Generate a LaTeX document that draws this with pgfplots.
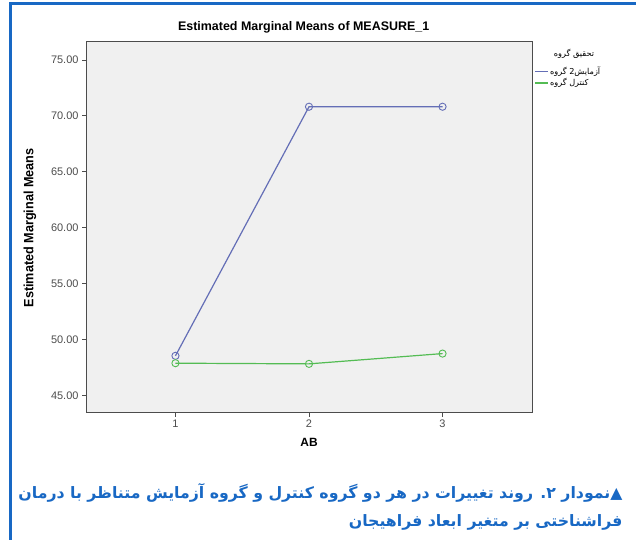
\documentclass[border=0pt]{standalone}
\usepackage{fontspec}
\setmainfont{Liberation Sans}
\newfontfamily\arabicfont[Script=Arabic]{DejaVu Sans}
\TeXXeTstate=1
\usepackage{pgfplots}
\pgfplotsset{compat=1.18}
\definecolor{capblue}{RGB}{24,104,196}
\definecolor{serblue}{RGB}{100,110,182}
\definecolor{sergreen}{RGB}{84,188,84}
\definecolor{plotbg}{RGB}{240,240,240}
\begin{document}
\begin{tikzpicture}
\path[use as bounding box] (0,0) rectangle (636bp,540bp);
\draw[capblue, line width=3bp] (10bp,-2bp) -- (10bp,536bp) -- (640bp,536bp);
\begin{axis}[
  at={(86bp,127.3bp)}, anchor=south west,
  width=446bp, height=371bp, scale only axis,
  xmin=0.33, xmax=3.67, ymin=43.44, ymax=76.64,
  xtick={1,2,3}, ytick={45,50,55,60,65,70,75},
  tick align=outside, tick pos=left,
  major tick length=4bp,
  axis background/.style={fill=plotbg},
  axis line style={black!70, line width=0.9bp},
  every tick/.style={black!70, line width=0.9bp},
  /pgf/number format/assume math mode=true,
  yticklabel style={/pgf/number format/.cd, fixed, fixed zerofill, precision=2},
  ticklabel style={font=\fontsize{11}{13}\selectfont, text=black!70},
  title={Estimated Marginal Means of MEASURE\_1},
  every axis title/.style={at={(axis description cs:0.488,1.0396)}, anchor=center, font=\bfseries\fontsize{12.5}{14}\selectfont},
  xlabel={AB},
  every axis x label/.style={at={(axis description cs:0.5,-0.079)}, anchor=center, font=\bfseries\fontsize{12}{14}\selectfont},
  ylabel={\scalebox{0.94}[1]{Estimated Marginal Means}},
  every axis y label/.style={at={(axis description cs:-0.1256,0.498)}, rotate=90, anchor=center, font=\bfseries\fontsize{13.5}{15}\selectfont},
  legend style={at={(1.006,0.935)}, anchor=north west, draw=none, fill=none,
    font=\arabicfont\fontsize{8.2}{9}\selectfont, inner sep=0pt, row sep=0.5bp,
    nodes={inner sep=1bp}},
  legend cell align=left,
  legend image code/.code={\draw[#1] (0bp,0bp) -- (13bp,0bp);},
]
\addplot[serblue, line width=1.2bp, mark=o, mark size=3.6bp, mark options={line width=0.9bp}]
  coordinates {(1,48.53) (2,70.82) (3,70.82)};
\addlegendentry{\beginR آزمایش2 گروه\endR}
\addplot[sergreen, line width=1.2bp, mark=o, mark size=3.6bp, mark options={line width=0.9bp}]
  coordinates {(1,47.87) (2,47.81) (3,48.73)};
\addlegendentry{\beginR کنترل گروه\endR}
\end{axis}
\node[anchor=center, font=\arabicfont\fontsize{8.2}{9}\selectfont] at (574bp,486bp) {\beginR تحقیق گروه\endR};
\node[anchor=east, text=capblue, font=\arabicfont\bfseries\fontsize{15.8}{18}\selectfont] at (626bp,47bp)
  {\beginR ▲نمودار ۲. روند تغییرات در هر دو گروه کنترل و گروه آزمایش متناظر با درمان\endR};
\node[anchor=east, text=capblue, font=\arabicfont\bfseries\fontsize{15.8}{18}\selectfont] at (626bp,18bp)
  {\beginR فراشناختی بر متغیر ابعاد فراهیجان\endR};
\end{tikzpicture}
\end{document}
